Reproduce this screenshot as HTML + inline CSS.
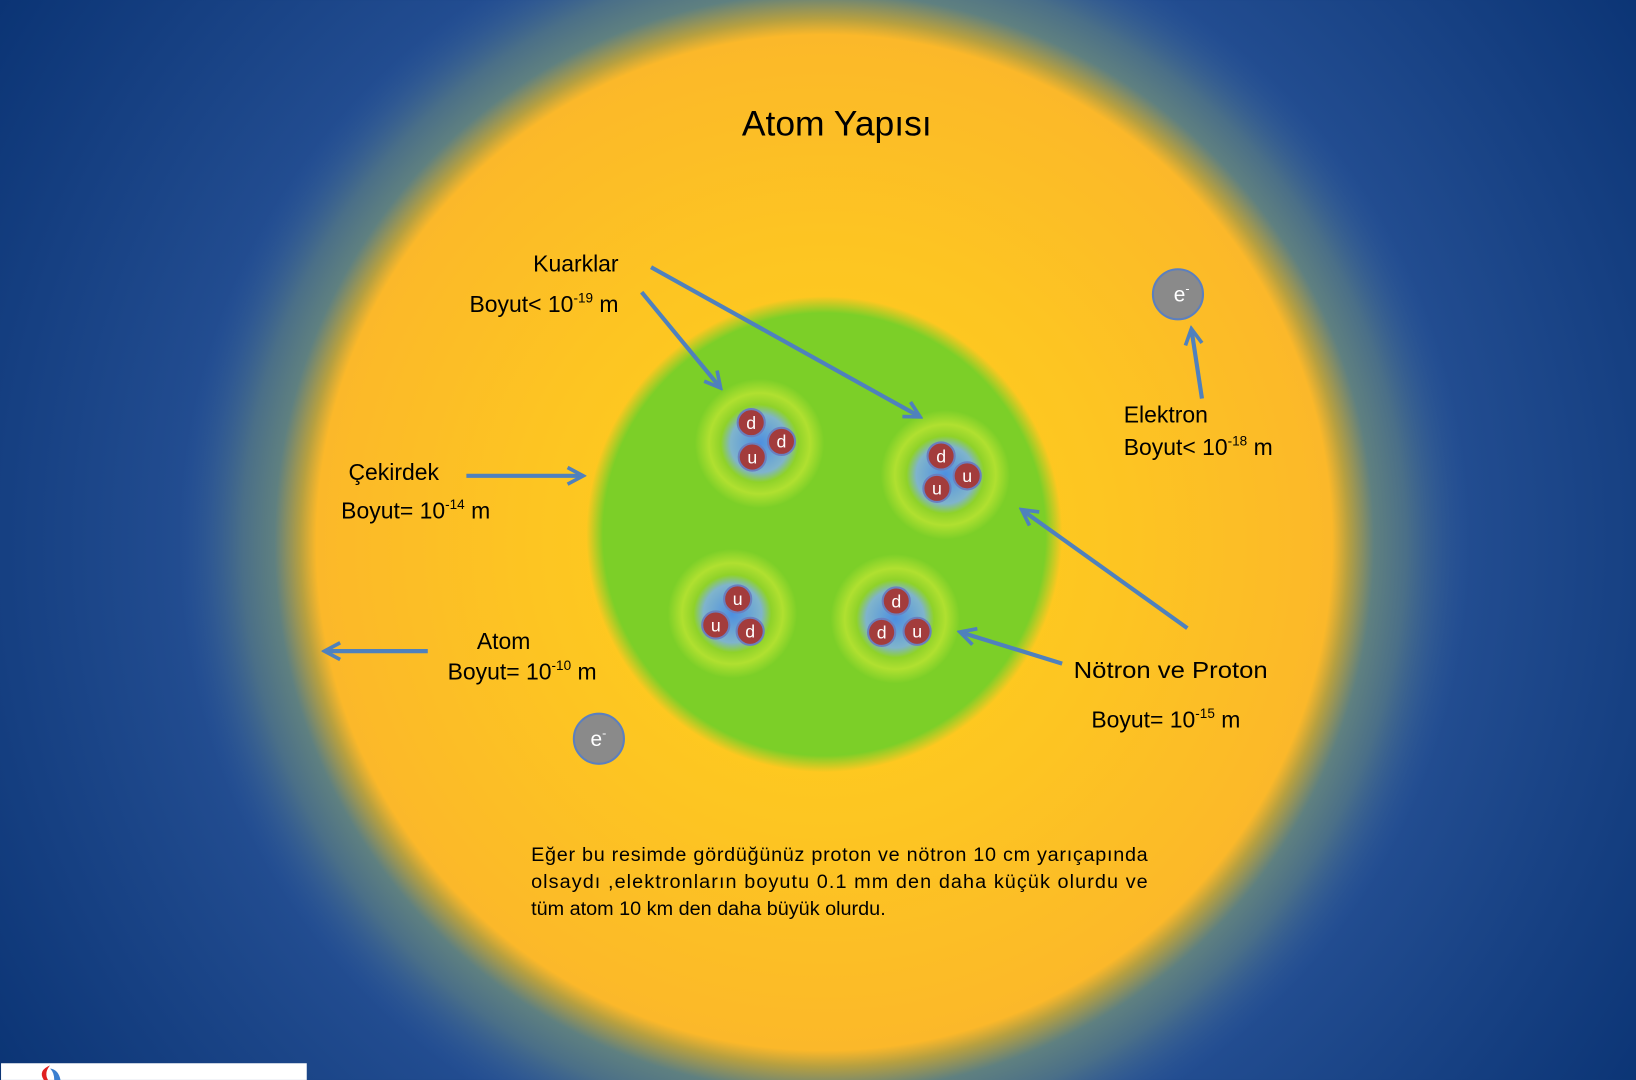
<!DOCTYPE html>
<html><head><meta charset="utf-8"><style>
html,body{margin:0;padding:0;background:#0e3a7a;overflow:hidden;width:1636px;height:1080px}
svg{display:block}
text{font-family:"Liberation Sans","DejaVu Sans",sans-serif;fill:#000}
</style></head><body>
<svg width="1636" height="1080" viewBox="0 0 1568 1035" xmlns="http://www.w3.org/2000/svg">
<defs>
<radialGradient id="bg" cx="790" cy="520" r="1000" gradientUnits="userSpaceOnUse">
<stop offset="0.5" stop-color="#2a559a"/><stop offset="1" stop-color="#073070"/>
</radialGradient>
<radialGradient id="atom" cx="790" cy="520" r="620" gradientUnits="userSpaceOnUse">
<stop offset="0" stop-color="#ffd21a"/>
<stop offset="0.45" stop-color="#fdc522"/>
<stop offset="0.74" stop-color="#fcba28"/>
<stop offset="0.785" stop-color="#fbb82a"/>
<stop offset="0.81" stop-color="#b7a040"/>
<stop offset="0.85" stop-color="#5f8080"/>
<stop offset="0.9" stop-color="#4a6f88"/>
<stop offset="1" stop-color="#2b569a" stop-opacity="0"/>
</radialGradient>
<radialGradient id="nuc" cx="790" cy="512" r="228" gradientUnits="userSpaceOnUse">
<stop offset="0.93" stop-color="#7ccf28"/>
<stop offset="1" stop-color="#7ccf28" stop-opacity="0"/>
</radialGradient>
<radialGradient id="nb">
<stop offset="0" stop-color="#4d8fe0"/>
<stop offset="0.45" stop-color="#7fb4cc"/>
<stop offset="0.6" stop-color="#8fd22a"/>
<stop offset="0.78" stop-color="#b0e030"/>
<stop offset="1" stop-color="#7ccf28"/>
</radialGradient>
<marker id="ar" markerWidth="20" markerHeight="20" refX="16" refY="10" orient="auto" markerUnits="userSpaceOnUse" viewBox="0 0 20 20">
<path d="M2,2 L17,10 L2,18" fill="none" stroke="#4f81bd" stroke-width="3.5"/>
</marker>
</defs>
<rect width="1568" height="1035" fill="url(#bg)"/>
<circle cx="790" cy="520" r="620" fill="url(#atom)"/>
<circle cx="790" cy="512" r="228" fill="url(#nuc)"/>
<g>
<circle cx="728" cy="425" r="62" fill="url(#nb)"/>
<circle cx="906" cy="455" r="62" fill="url(#nb)"/>
<circle cx="702" cy="588" r="62" fill="url(#nb)"/>
<circle cx="858" cy="593" r="62" fill="url(#nb)"/>
</g>
<g stroke="#6a7fbf" stroke-width="2" fill="#a33c3c">
<circle cx="720" cy="405" r="13"/><circle cx="749" cy="423" r="13"/><circle cx="721" cy="438" r="13"/>
<circle cx="902" cy="437" r="13"/><circle cx="927" cy="456" r="13"/><circle cx="898" cy="468" r="13"/>
<circle cx="707" cy="574" r="13"/><circle cx="686" cy="599" r="13"/><circle cx="719" cy="605" r="13"/>
<circle cx="859" cy="576" r="13"/><circle cx="845" cy="606" r="13"/><circle cx="879" cy="605" r="13"/>
</g>
<g font-size="17" text-anchor="middle">
<text x="720" y="411" style="fill:#fff">d</text><text x="749" y="429" style="fill:#fff">d</text><text x="721" y="444" style="fill:#fff">u</text>
<text x="902" y="443" style="fill:#fff">d</text><text x="927" y="462" style="fill:#fff">u</text><text x="898" y="474" style="fill:#fff">u</text>
<text x="707" y="580" style="fill:#fff">u</text><text x="686" y="605" style="fill:#fff">u</text><text x="719" y="611" style="fill:#fff">d</text>
<text x="859" y="582" style="fill:#fff">d</text><text x="845" y="612" style="fill:#fff">d</text><text x="879" y="611" style="fill:#fff">u</text>
</g>
<circle cx="1129" cy="282" r="24" fill="#8a8a8a" stroke="#5b7fbf" stroke-width="2"/>
<text x="1125" y="289" font-size="20" style="fill:#fff">e<tspan font-size="12" dy="-8">-</tspan></text>
<circle cx="574" cy="708" r="24" fill="#8a8a8a" stroke="#5b7fbf" stroke-width="2"/>
<text x="566" y="715" font-size="20" style="fill:#fff">e<tspan font-size="12" dy="-8">-</tspan></text>
<g stroke="#4f81bd" stroke-width="4" fill="none" marker-end="url(#ar)">
<line x1="624" y1="256" x2="881" y2="399"/>
<line x1="615" y1="280" x2="690" y2="371"/>
<line x1="447" y1="456" x2="558" y2="456"/>
<line x1="410" y1="624" x2="312" y2="624"/>
<line x1="1152" y1="382" x2="1142" y2="316"/>
<line x1="1138" y1="602" x2="980" y2="489"/>
<line x1="1018" y1="636" x2="921" y2="606"/>
</g>
<text x="802" y="130" font-size="34" text-anchor="middle">Atom Yapısı</text>
<g font-size="22">
<text x="511" y="260">Kuarklar</text>
<text x="450" y="299">Boyut&lt; 10<tspan font-size="13" dy="-9">-19</tspan><tspan dy="9"> m</tspan></text>
<text x="334" y="460">Çekirdek</text>
<text x="327" y="497">Boyut= 10<tspan font-size="13" dy="-9">-14</tspan><tspan dy="9"> m</tspan></text>
<text x="457" y="622">Atom</text>
<text x="429" y="651">Boyut= 10<tspan font-size="13" dy="-9">-10</tspan><tspan dy="9"> m</tspan></text>
<text x="1077" y="405">Elektron</text>
<text x="1077" y="436">Boyut&lt; 10<tspan font-size="13" dy="-9">-18</tspan><tspan dy="9">  m</tspan></text>
<text x="1029" y="650" textLength="186" lengthAdjust="spacingAndGlyphs">Nötron ve Proton</text>
<text x="1046" y="697">Boyut= 10<tspan font-size="13" dy="-9">-15</tspan><tspan dy="9"> m</tspan></text>
</g>
<g font-size="19">
<text x="509" y="825" textLength="591" lengthAdjust="spacing">Eğer bu resimde gördüğünüz proton ve nötron 10 cm yarıçapında</text>
<text x="509" y="851" textLength="591" lengthAdjust="spacing">olsaydı ,elektronların boyutu 0.1 mm den daha küçük olurdu ve</text>
<text x="509" y="877">tüm atom 10 km den daha büyük   olurdu.</text>
</g>
<rect x="1" y="1019" width="293" height="16" fill="#fff"/>
<path d="M42,1035 Q36,1026 48,1021 Q42,1028 46,1035Z" fill="#e02020"/>
<path d="M48,1024 Q56,1025 58,1035 L52,1035 Q52,1028 48,1024Z" fill="#3b7fd0"/>
</svg>
</body></html>
